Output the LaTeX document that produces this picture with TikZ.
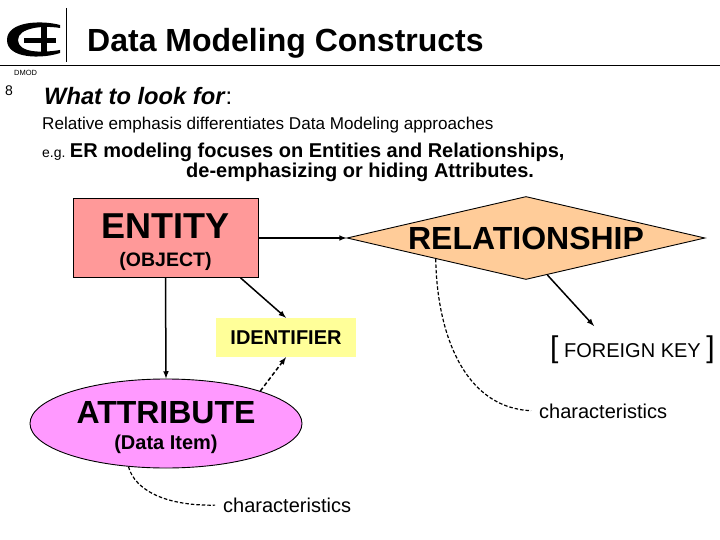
\documentclass[tikz,border=0pt]{standalone}
\usepackage{fontspec}
\setmainfont{Liberation Sans}
\usetikzlibrary{shapes.geometric}
\newcommand{\fsize}[1]{\fontsize{#1}{#1}\selectfont}
\definecolor{entitypink}{HTML}{FF9999}
\definecolor{relationorange}{HTML}{FFCC99}
\definecolor{identyellow}{HTML}{FFFF99}
\definecolor{attribmagenta}{HTML}{FF99FF}
\tikzset{
  plain text/.style={inner sep=0pt, anchor=west},
  solid link/.style={-latex, line width=1.5pt},
  dashed link/.style={-latex, line width=1.5pt, dash pattern=on 4pt off 2.5pt},
  note link/.style={line width=1.2pt, dash pattern=on 3.5pt off 2pt},
}
\begin{document}
\begin{tikzpicture}[x=1pt, y=-1pt]
  \useasboundingbox (0,0) rectangle (720,540);

  % Logo and title
  \fill (60,25) .. controls (42,20) and (7,21) .. (7,40) .. controls (7,59) and (42,59) .. (60,53)
    -- (60,50) .. controls (42,53) and (18,53) .. (18,40) .. controls (18,28) and (42,25) .. (60,28) -- cycle;
  \fill (41,27) rectangle (47,53);
  \fill (24,38) rectangle (56,43);
  \draw[line width=0.8pt] (66,8) -- (66,62);
  \draw[line width=0.8pt] (0,65) -- (720,65);
  \node[plain text, font=\fsize{32}\bfseries] (title) at (87,43) {Data Modeling Constructs};
  \node[plain text, font=\fsize{7.5}] (dmod) at (14,73) {DMOD};
  \node[plain text, font=\fsize{14}] (page) at (5,91) {8};

  % Heading lines
  \node[plain text, font=\fsize{23.7}\bfseries\itshape] (look) at (44,96) {What to look for\textup{\mdseries:}};
  \node[plain text, font=\fsize{17.1}] (relative) at (42,125) {Relative emphasis differentiates Data Modeling approaches};
  \node[plain text, font=\fsize{20}\bfseries] (er) at (42,152) {{\fsize{14}\mdseries e.g.}\hspace{-3pt} ER modeling focuses on Entities and Relationships,};
  \node[plain text, font=\fsize{20}\bfseries] (hiding) at (186,172) {de-emphasizing or hiding Attributes.};

  % Constructs
  \node[draw, fill=entitypink, minimum width=185, minimum height=79, align=center, line width=0.9pt] (entity) at (165.5,238)
    {{\fsize{36}\bfseries ENTITY}\\[13pt]{\fsize{19.5}\bfseries (OBJECT)}\\[-17pt]};
  \node[draw, fill=relationorange, diamond, aspect=4.3, inner sep=0pt, minimum width=358, minimum height=83, line width=0.9pt,
    font=\fsize{32}\bfseries] (relationship) at (526,238) {RELATIONSHIP};
  \node[fill=identyellow, minimum width=140, minimum height=39, font=\fsize{20}\bfseries] (identifier) at (286,337.5) {IDENTIFIER};
  \node[draw, fill=attribmagenta, ellipse, minimum width=272, minimum height=89, inner sep=0pt, align=center, line width=0.9pt] (attribute) at (166,423.5)
    {{\fsize{32}\bfseries ATTRIBUTE}\\[10pt]{\fsize{20}\bfseries (Data Item)}\\[-16pt]};
  \node[plain text, font=\fsize{20}] (foreign) at (550,350) {{\fsize{30}[} FOREIGN KEY {\fsize{30}]}};
  \node[plain text, font=\fsize{20}] (charsright) at (539,411) {characteristics};
  \node[plain text, font=\fsize{20}] (charsleft) at (223,505) {characteristics};
  \coordinate (fktip) at (594,326);

  % Links
  \draw[solid link] (entity.east) -- (relationship.west);
  \draw[solid link] (entity.south) -- (attribute.north);
  \draw[solid link] (entity.-28.6) -- (identifier.north);
  \draw[dashed link] (attribute.19) -- (identifier.south);
  \draw[solid link] (relationship.-60) -- (fktip);
  \draw[note link, shorten >=8pt] (relationship.193.3) .. controls (437,335) and (465,408) .. (charsright.west);
  \draw[note link, shorten >=8pt] (attribute.-131) .. controls (135,490) and (165,506) .. (charsleft.west);
\end{tikzpicture}
\end{document}
